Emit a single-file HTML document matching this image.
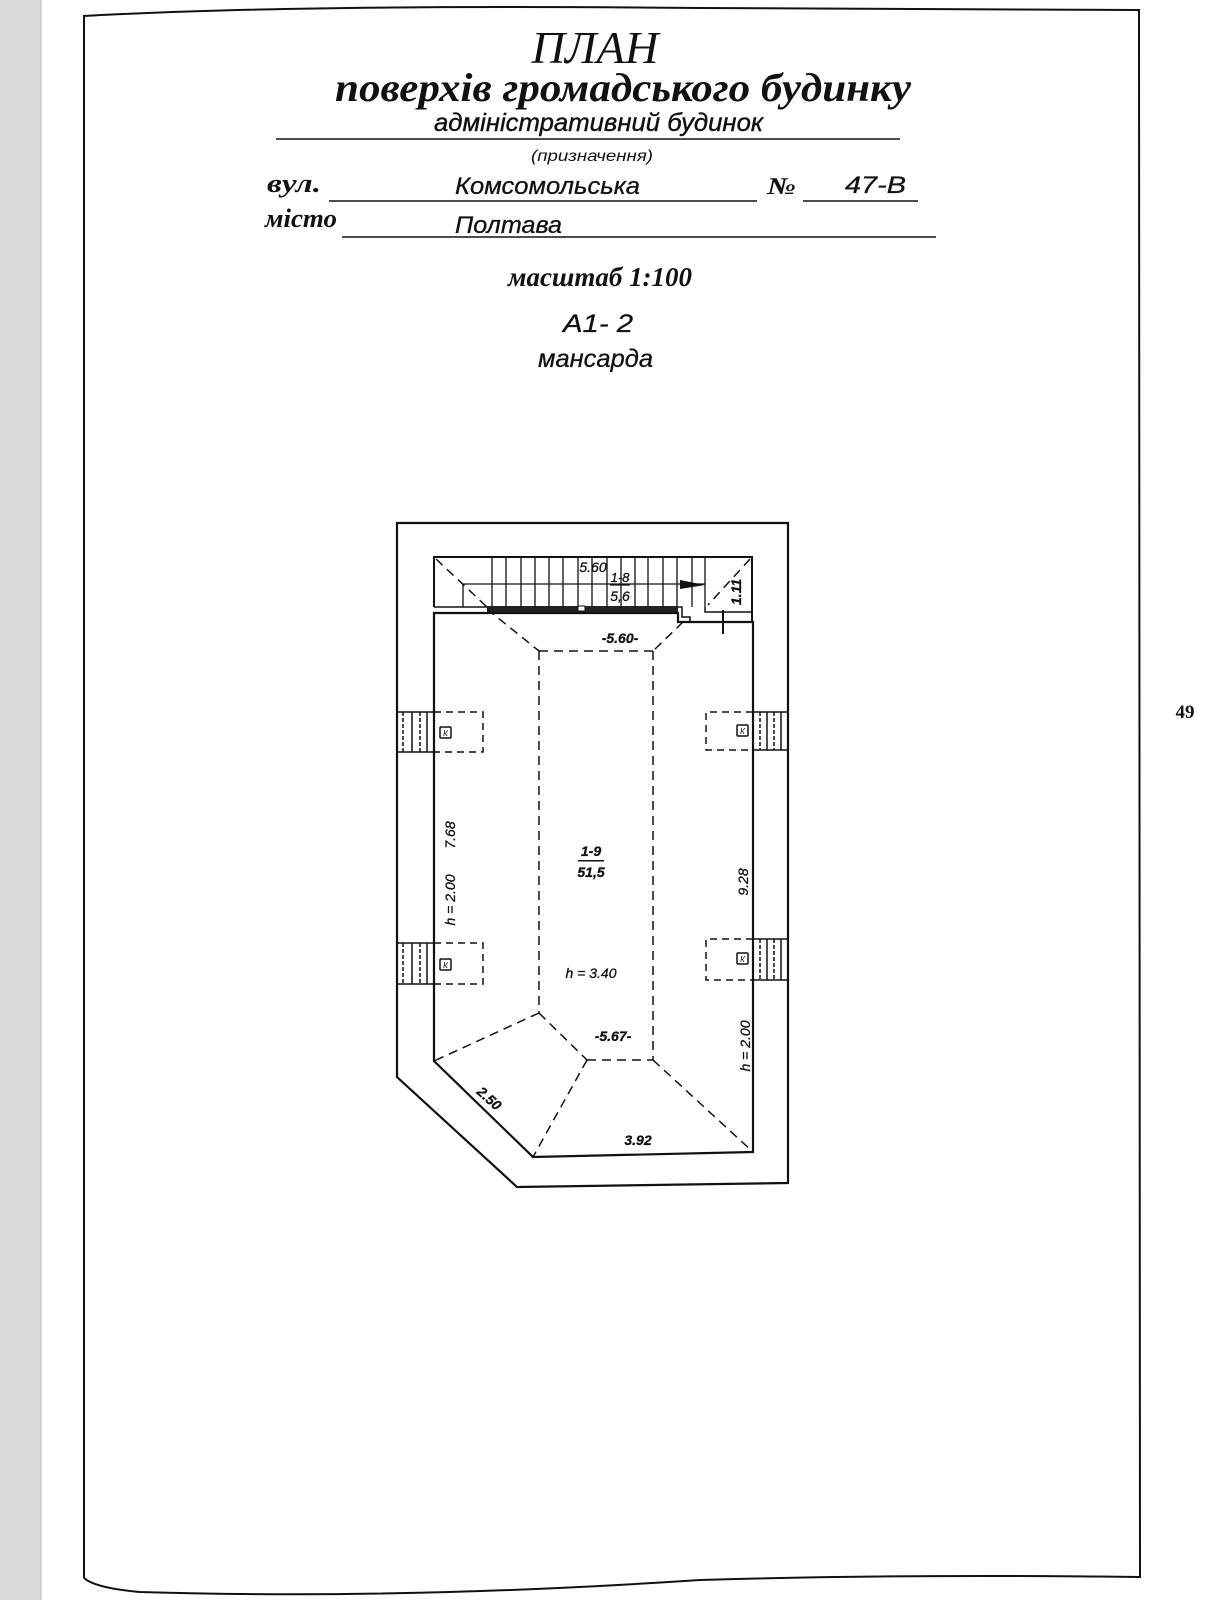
<!DOCTYPE html>
<html><head><meta charset="utf-8"><style>
html,body{margin:0;padding:0;background:#fff;}
svg{display:block;}
.ti{font-family:"Liberation Serif",serif;font-style:italic;font-weight:bold;fill:#111;}
.hs{font-family:"Liberation Sans",sans-serif;font-style:italic;fill:#111;}
.ln{stroke:#111;fill:none;}
</style></head><body>
<svg width="1210" height="1600" viewBox="0 0 1210 1600" xmlns="http://www.w3.org/2000/svg">
<rect x="0" y="0" width="41" height="1600" fill="#d9d9de"/>
<line x1="41" y1="0" x2="41" y2="1600" stroke="#bbb" stroke-width="1"/>
<!-- page frame -->
<path class="ln" stroke-width="2" d="M84 1578 L84 16 Q300 4 700 8 L1139 10 L1140 1577 Q900 1574 700 1580 Q400 1600 140 1592 Q95 1588 84 1578"/>
<!-- title -->
<text x="595" y="63" font-size="46" text-anchor="middle" textLength="127" lengthAdjust="spacingAndGlyphs" style="font-family:'Liberation Serif',serif;font-style:italic;font-weight:normal;fill:#111">ПЛАН</text>
<text class="ti" x="335" y="101" font-size="40" textLength="576" lengthAdjust="spacingAndGlyphs">поверхів громадського будинку</text>
<text class="hs" x="434" y="131" font-size="25" textLength="329" lengthAdjust="spacingAndGlyphs" stroke="#111" stroke-width="0.4">адміністративний будинок</text>
<line class="ln" stroke-width="1.5" x1="276" y1="139" x2="900" y2="139"/>
<text class="hs" x="531" y="161" font-size="16" textLength="122" lengthAdjust="spacingAndGlyphs">(призначення)</text>
<text class="ti" x="267" y="192" font-size="26" textLength="54" lengthAdjust="spacingAndGlyphs">вул.</text>
<line class="ln" stroke-width="1.5" x1="329" y1="201" x2="757" y2="201"/>
<text class="hs" x="455" y="194" font-size="24" textLength="185" lengthAdjust="spacingAndGlyphs" stroke="#111" stroke-width="0.3">Комсомольська</text>
<text class="ti" x="767" y="194" font-size="24" textLength="29" lengthAdjust="spacingAndGlyphs">№</text>
<line class="ln" stroke-width="1.5" x1="803" y1="201" x2="918" y2="201"/>
<text class="hs" x="845" y="193" font-size="24" textLength="61" lengthAdjust="spacingAndGlyphs" stroke="#111" stroke-width="0.3">47-В</text>
<text class="ti" x="265" y="227" font-size="26" textLength="72" lengthAdjust="spacingAndGlyphs">місто</text>
<line class="ln" stroke-width="1.5" x1="342" y1="237" x2="936" y2="237"/>
<text class="hs" x="455" y="233" font-size="24" textLength="107" lengthAdjust="spacingAndGlyphs" stroke="#111" stroke-width="0.3">Полтава</text>
<text class="ti" x="508" y="286" font-size="27" textLength="184" lengthAdjust="spacingAndGlyphs">масштаб 1:100</text>
<text class="hs" x="563" y="332" font-size="25" textLength="70" lengthAdjust="spacingAndGlyphs" stroke="#111" stroke-width="0.3">А1-  2</text>
<text class="hs" x="538" y="367" font-size="25" textLength="115" lengthAdjust="spacingAndGlyphs" stroke="#111" stroke-width="0.3">мансарда</text>
<text x="1185" y="718" font-family="Liberation Serif,serif" font-size="19" font-weight="bold" text-anchor="middle" fill="#111">49</text>

<!-- outer walls -->
<path class="ln" stroke-width="2.2" d="M397 523 L788 523 L788 1183 L517 1187 L397 1077 Z"/>
<!-- inner room -->
<path class="ln" stroke-width="2.2" d="M434 613 L678 613 L678 622 L753 622 L753 1152 L533 1157 L434 1061 Z"/>
<!-- stair box -->
<path class="ln" stroke-width="2" d="M434 607 L434 557 L752 557 L752 622"/>
<line class="ln" stroke-width="1.5" x1="434" y1="607" x2="487" y2="607"/>
<rect x="487" y="606" width="191" height="6" fill="#222"/>
<rect x="578" y="606" width="7" height="5" fill="#fff" stroke="#111" stroke-width="1"/>
<path class="ln" stroke-width="1.5" d="M678 607 L682 607 L682 617 L690 617 L690 622 M705 607 L705 612 L752 612"/>
<g class="ln" stroke-width="1.3">
<line x1="492" y1="557" x2="492" y2="607"/><line x1="506" y1="557" x2="506" y2="607"/><line x1="521" y1="557" x2="521" y2="607"/><line x1="535" y1="557" x2="535" y2="607"/><line x1="549" y1="557" x2="549" y2="607"/><line x1="563" y1="557" x2="563" y2="607"/><line x1="578" y1="557" x2="578" y2="607"/><line x1="592" y1="557" x2="592" y2="607"/><line x1="607" y1="557" x2="607" y2="607"/><line x1="621" y1="557" x2="621" y2="607"/><line x1="635" y1="557" x2="635" y2="607"/><line x1="648" y1="557" x2="648" y2="607"/><line x1="663" y1="557" x2="663" y2="607"/><line x1="677" y1="557" x2="677" y2="607"/><line x1="692" y1="557" x2="692" y2="607"/><line x1="705" y1="557" x2="705" y2="607"/>
<line x1="463" y1="584" x2="705" y2="584"/><line x1="463" y1="584" x2="463" y2="607"/>
<line x1="723" y1="610" x2="723" y2="634" stroke-width="2"/>
</g>
<rect x="610" y="584" width="20" height="1.6" fill="#111"/>
<path d="M680 580 L705 585 L680 589 Z" fill="#111"/>
<g class="ln" stroke-width="1.5" stroke-dasharray="9,6">
<line x1="436" y1="559" x2="487" y2="607"/>
<line x1="750" y1="559" x2="708" y2="605"/>
<line x1="487" y1="609" x2="539" y2="651"/>
<line x1="683" y1="622" x2="653" y2="651"/>
<line x1="539" y1="651" x2="653" y2="651"/>
<line x1="539" y1="651" x2="539" y2="1013"/>
<line x1="653" y1="651" x2="653" y2="1060"/>
<line x1="539" y1="1013" x2="434" y2="1061"/>
<line x1="539" y1="1013" x2="587" y2="1060"/>
<line x1="587" y1="1060" x2="653" y2="1060"/>
<line x1="587" y1="1060" x2="533" y2="1157"/>
<line x1="653" y1="1060" x2="753" y2="1152"/>
</g>
<!-- windows -->
<g class="ln" stroke-width="1.5">
<g stroke-dasharray="7,5"><path d="M434 712 L483 712 L483 752 L434 752"/><path d="M434 943 L483 943 L483 984 L434 984"/>
<path d="M753 712 L706 712 L706 750 L753 750"/><path d="M753 939 L706 939 L706 980 L753 980"/></g>
<path d="M397 712 L434 712 M397 752 L434 752 M397 943 L434 943 M397 984 L434 984"/>
<path d="M403 712 V752 M420 712 V752 M403 943 V984 M420 943 V984" stroke-dasharray="4,2"/>
<path d="M412 712 V752 M427 712 V752 M412 943 V984 M427 943 V984"/>
<path d="M753 712 L788 712 M753 750 L788 750 M753 939 L788 939 M753 980 L788 980"/>
<path d="M760 712 V750 M774 712 V750 M760 939 V980 M774 939 V980" stroke-dasharray="4,2"/>
<path d="M767 712 V750 M781 712 V750 M767 939 V980 M781 939 V980"/>
<rect x="440" y="727" width="11" height="11" rx="1"/><rect x="440" y="959" width="11" height="11" rx="1"/>
<rect x="737" y="725" width="11" height="11" rx="1"/><rect x="737" y="953" width="11" height="11" rx="1"/>
</g>
<g class="hs" font-size="8" text-anchor="middle"><text x="445.5" y="736">К</text><text x="445.5" y="968">К</text><text x="742.5" y="734">К</text><text x="742.5" y="962">К</text></g>
<!-- labels -->
<g class="hs" text-anchor="middle" stroke="#111" stroke-width="0.3">
<text x="593" y="572" font-size="14">5.60</text>
<text x="620" y="582" font-size="13">1-8</text>
<text x="620" y="601" font-size="14">5,6</text>
<text transform="translate(741,592) rotate(-90)" font-size="14" font-weight="bold">1.11</text>
<text x="620" y="643" font-size="14" font-weight="bold">-5.60-</text>
<text x="591" y="856" font-size="14" font-weight="bold">1-9</text>
<text x="591" y="877" font-size="14" font-weight="bold">51,5</text>
<text x="591" y="978" font-size="14">h = 3.40</text>
<text x="613" y="1041" font-size="14" font-weight="bold">-5.67-</text>
<text x="638" y="1145" font-size="14" font-weight="bold">3.92</text>
<text transform="translate(486,1102) rotate(42)" font-size="14" font-weight="bold">2.50</text>
<text transform="translate(455,835) rotate(-90)" font-size="14">7.68</text>
<text transform="translate(455,900) rotate(-90)" font-size="14">h = 2.00</text>
<text transform="translate(748,882) rotate(-90)" font-size="14">9.28</text>
<text transform="translate(750,1046) rotate(-90)" font-size="14">h = 2.00</text>
</g>
<rect x="578" y="860" width="26" height="1.5" fill="#111"/>
</svg>
</body></html>
